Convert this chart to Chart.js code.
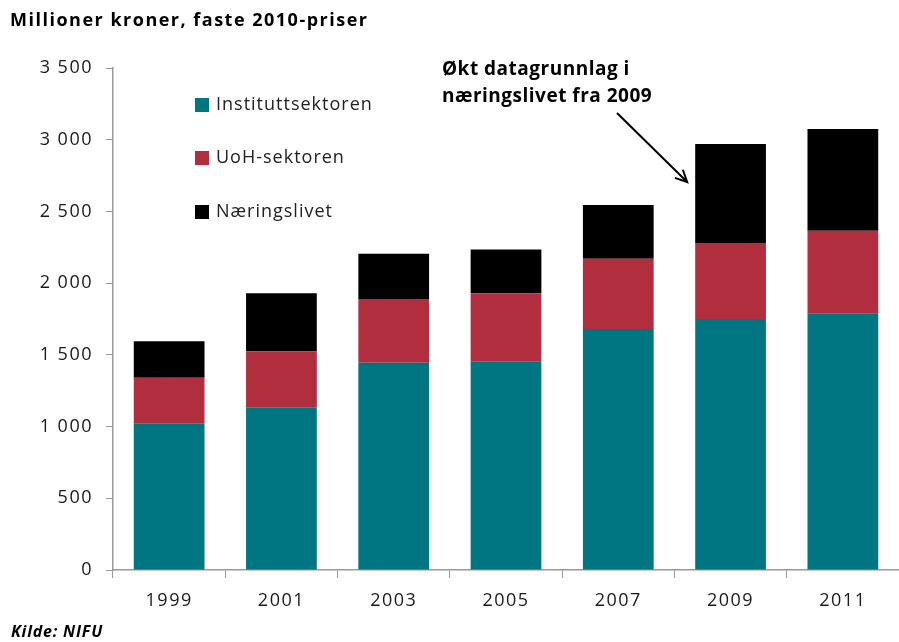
<!DOCTYPE html>
<html lang="no">
<head>
  <meta charset="UTF-8">
  <title>Millioner kroner, faste 2010-priser</title>
  <style>
    body { margin: 0; background: #fff; }
    #chart-wrap { width: 899px; height: 642px; }
  </style>
</head>
<body>
  <div id="chart-wrap"><canvas id="chart"></canvas></div>

  <script src="https://cdn.jsdelivr.net/npm/chart.js"></script>
  <script>
    // Data (millioner kroner)
    const years = ['1999', '2001', '2003', '2005', '2007', '2009', '2011'];
    const institutt = [1020, 1135, 1445, 1455, 1680, 1750, 1790];
    const uoh = [320, 390, 445, 475, 490, 530, 575];
    const naering = [255, 405, 315, 305, 375, 690, 710];
    const yTicks = [0, 500, 1000, 1500, 2000, 2500, 3000, 3500];

    const FONT = '"Open Sans", sans-serif';

    function fmt(v) {
      return String(v).replace(/\B(?=(\d{3})+(?!\d))/g, ' ');
    }

    // the original font is wider than Open Sans, so space the letters a bit
    const spacing = {
      id: 'spacing',
      beforeLayout(chart) { chart.ctx.letterSpacing = '1.5px'; },
      beforeDraw(chart) { chart.ctx.letterSpacing = '1.5px'; }
    };

    // title, legend, note with arrow and source
    const decorations = {
      id: 'decorations',
      afterDraw(chart) {
        const ctx = chart.ctx;
        ctx.save();
        ctx.fillStyle = '#000';
        ctx.textBaseline = 'middle';
        ctx.textAlign = 'left';

        ctx.letterSpacing = '1.5px';
        ctx.font = 'bold 18px ' + FONT;
        ctx.fillText('Millioner kroner, faste 2010-priser', 10, 21);

        ctx.letterSpacing = '0.8px';
        ctx.font = 'bold italic 16px ' + FONT;
        ctx.fillText('Kilde: NIFU', 11, 632);

        // legend
        const legendY = [105, 158, 212];
        ctx.letterSpacing = '1px';
        ctx.font = '18px ' + FONT;
        chart.data.datasets.forEach((ds, i) => {
          ctx.fillStyle = ds.backgroundColor;
          ctx.fillRect(195, legendY[i] - 7, 14, 14);
          ctx.fillStyle = '#222';
          ctx.fillText(ds.label, 216, legendY[i]);
        });

        // note
        ctx.fillStyle = '#000';
        ctx.letterSpacing = '0.5px';
        ctx.font = 'bold 19px ' + FONT;
        ctx.fillText('Økt datagrunnlag i', 442, 70);
        ctx.fillText('næringslivet fra 2009', 442, 97);

        // arrow pointing at the 2009 bar
        const bar = chart.getDatasetMeta(2).data[5];
        const tipX = bar.x - bar.width / 2 - 8;
        const tipY = bar.y + 38;
        const x0 = 617, y0 = 113;
        ctx.strokeStyle = '#000';
        ctx.lineWidth = 2;
        ctx.beginPath();
        ctx.moveTo(x0, y0);
        ctx.lineTo(tipX, tipY);
        const ang = Math.atan2(tipY - y0, tipX - x0);
        const h = 13;
        ctx.moveTo(tipX - h * Math.cos(ang - 0.45), tipY - h * Math.sin(ang - 0.45));
        ctx.lineTo(tipX, tipY);
        ctx.lineTo(tipX - h * Math.cos(ang + 0.45), tipY - h * Math.sin(ang + 0.45));
        ctx.stroke();
        ctx.restore();
      }
    };

    new Chart(document.getElementById('chart'), {
      type: 'bar',
      data: {
        labels: years,
        datasets: [
          { label: 'Instituttsektoren', data: institutt, backgroundColor: '#007682' },
          { label: 'UoH-sektoren', data: uoh, backgroundColor: '#B02E3E' },
          { label: 'Næringslivet', data: naering, backgroundColor: '#000000' }
        ]
      },
      options: {
        responsive: true,
        maintainAspectRatio: false,
        animation: false,
        layout: { padding: { top: 68, left: 0, right: 0, bottom: 0 } },
        datasets: { bar: { categoryPercentage: 1, barPercentage: 0.63, borderWidth: 0 } },
        plugins: { legend: { display: false }, tooltip: { enabled: false } },
        scales: {
          x: {
            stacked: true,
            afterFit(s) { s.height = 72; },
            border: { color: '#999', width: 1.5 },
            grid: { display: true, offset: true, drawOnChartArea: false, tickLength: 8, color: '#999' },
            ticks: { color: '#1a1a1a', font: { family: FONT, size: 18 }, padding: 12 }
          },
          y: {
            stacked: true,
            min: 0,
            max: 3500,
            afterFit(s) { s.width = 113; },
            afterBuildTicks(s) { s.ticks = yTicks.map(v => ({ value: v })); },
            border: { color: '#999', width: 1.5 },
            grid: { display: true, drawOnChartArea: false, tickLength: 7, color: '#999' },
            ticks: {
              color: '#1a1a1a',
              font: { family: FONT, size: 18 },
              padding: 13,
              callback: v => fmt(v)
            }
          }
        }
      },
      plugins: [spacing, decorations]
    });
  </script>
</body>
</html>
